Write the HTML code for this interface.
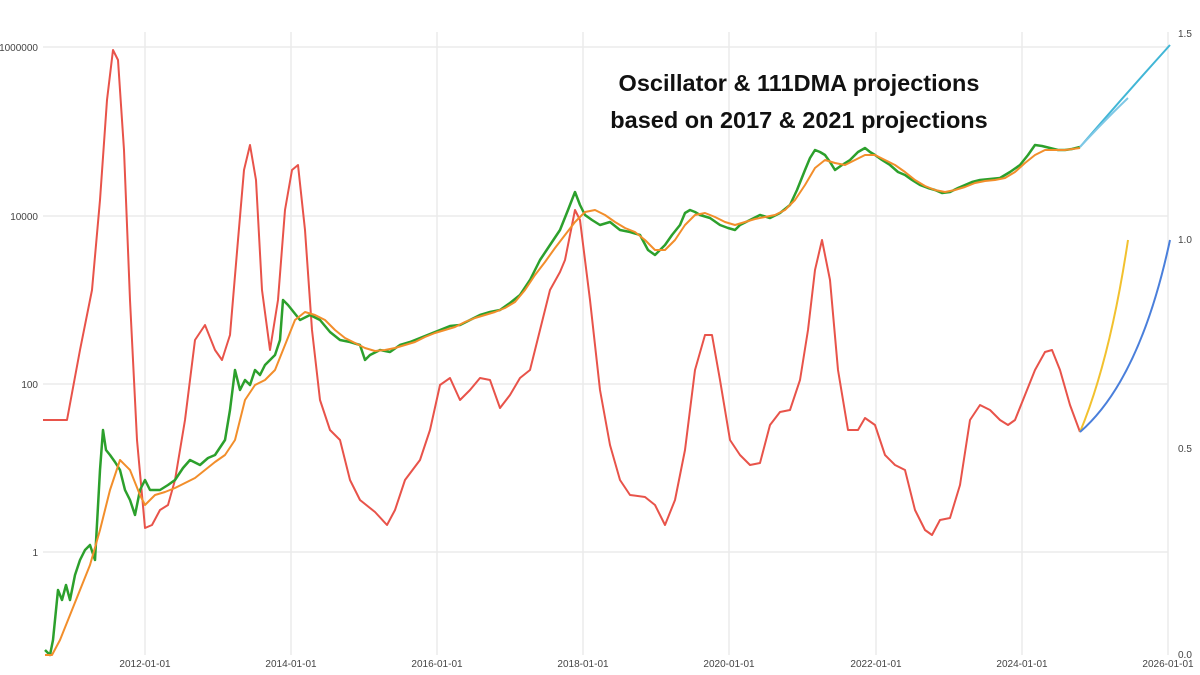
<!DOCTYPE html>
<html><head><meta charset="utf-8"><style>
body{margin:0;background:#fff;}
svg{display:block;font-family:"Liberation Sans",sans-serif;}
</style></head><body>
<svg width="1200" height="675" viewBox="0 0 1200 675">
<g stroke="#ebebeb" stroke-width="1.5">
<line x1="43" y1="47" x2="1168" y2="47"/><line x1="43" y1="216" x2="1168" y2="216"/>
<line x1="43" y1="384" x2="1168" y2="384"/><line x1="43" y1="552" x2="1168" y2="552"/>
<line x1="145" y1="32" x2="145" y2="655"/><line x1="291" y1="32" x2="291" y2="655"/>
<line x1="437" y1="32" x2="437" y2="655"/><line x1="583" y1="32" x2="583" y2="655"/>
<line x1="729" y1="32" x2="729" y2="655"/><line x1="876" y1="32" x2="876" y2="655"/>
<line x1="1022" y1="32" x2="1022" y2="655"/><line x1="1168" y1="32" x2="1168" y2="655"/>
</g>
<g font-size="10" fill="#444" text-anchor="end">
<text x="38" y="51">1000000</text><text x="38" y="220">10000</text>
<text x="38" y="388">100</text><text x="38" y="556">1</text>
</g>
<g font-size="10" fill="#444" text-anchor="middle">
<text x="145" y="667">2012-01-01</text><text x="291" y="667">2014-01-01</text>
<text x="437" y="667">2016-01-01</text><text x="583" y="667">2018-01-01</text>
<text x="729" y="667">2020-01-01</text><text x="876" y="667">2022-01-01</text>
<text x="1022" y="667">2024-01-01</text><text x="1168" y="667">2026-01-01</text>
</g>
<g font-size="10" fill="#444"><text x="1178" y="37">1.5</text><text x="1178" y="243">1.0</text><text x="1178" y="452">0.5</text><text x="1178" y="658">0.0</text></g>
<polyline fill="none" stroke="#e8534a" stroke-width="2" stroke-linejoin="round" points="43,420 67,420 80,350 92,290 100,200 107,100 113,50 118,60 124,150 130,300 137,440 145,528 152,525 160,510 168,505 175,480 185,420 195,340 205,325 215,350 222,360 230,335 238,240 244,170 250,145 256,180 262,290 270,350 278,300 285,210 292,170 298,165 305,230 312,330 320,400 330,430 340,440 350,480 360,500 375,512 387,525 395,510 405,480 420,460 430,430 440,385 450,378 460,400 470,390 480,378 490,380 500,408 510,395 520,378 530,370 540,330 550,290 560,272 565,260 575,210 580,220 590,300 600,390 610,445 620,480 630,495 645,497 655,505 665,525 675,500 685,450 695,370 705,335 712,335 720,380 730,440 740,455 750,465 760,463 770,425 780,412 790,410 800,380 808,330 815,270 822,240 830,280 838,370 848,430 858,430 865,418 875,425 885,455 895,465 905,470 915,510 925,530 932,535 940,520 950,518 960,485 970,420 980,405 990,410 1000,420 1008,425 1015,420 1025,395 1035,370 1045,352 1052,350 1060,370 1070,405 1080,432"/>
<polyline fill="none" stroke="#2ca02c" stroke-width="2.5" stroke-linejoin="round" points="45,650 50,655 53,640 55,620 58,590 62,600 66,585 70,600 75,575 80,560 85,550 90,545 95,560 100,470 103,430 106,450 110,455 115,462 120,470 125,490 130,500 135,515 140,490 145,480 150,490 160,490 168,485 175,480 183,468 190,460 200,465 208,458 215,455 225,440 230,410 235,370 240,390 245,380 250,385 255,370 260,375 265,365 270,360 275,355 280,340 283,300 288,305 292,310 300,320 310,315 320,320 330,332 340,340 350,342 360,345 365,360 370,355 380,350 390,352 400,345 410,342 420,338 430,334 440,330 450,326 460,325 470,320 480,315 490,312 500,310 510,303 520,295 530,280 540,260 550,245 560,230 568,210 575,192 580,205 585,215 592,220 600,225 610,222 620,230 630,232 640,235 648,250 655,255 660,250 665,245 672,235 680,225 685,213 690,210 695,212 700,215 710,218 720,225 728,228 735,230 740,225 750,220 760,215 770,218 780,213 790,205 797,190 805,170 810,158 815,150 820,152 825,155 830,162 835,170 842,165 850,160 858,152 865,148 870,152 875,155 882,160 890,165 898,172 905,175 912,180 920,185 928,188 935,190 942,193 950,192 958,188 965,185 972,182 980,180 990,179 1000,178 1010,172 1020,165 1028,155 1035,145 1042,146 1050,148 1058,150 1065,150 1072,149 1080,147"/>
<polyline fill="none" stroke="#f28e2b" stroke-width="2" stroke-linejoin="round" points="45,655 52,655 60,640 70,615 80,590 90,565 100,530 110,490 120,460 130,470 140,495 145,505 155,495 165,492 175,488 185,483 195,478 205,470 215,462 225,455 235,440 245,400 255,385 265,380 275,370 285,345 295,320 305,312 315,315 325,320 335,330 345,338 355,343 365,348 375,351 385,350 395,348 405,345 415,342 425,337 435,333 445,330 455,327 465,322 475,318 485,315 495,312 505,308 515,302 525,290 535,275 545,262 555,248 565,235 575,222 585,212 595,210 605,215 615,222 625,228 635,232 645,240 655,250 665,250 675,240 685,225 695,215 705,213 715,217 725,222 735,225 745,222 755,219 765,217 775,215 785,210 795,200 805,185 815,168 825,160 835,163 845,165 855,160 865,155 875,155 885,160 895,165 905,172 915,180 925,186 935,190 945,192 955,190 965,187 975,183 985,181 995,180 1005,178 1015,172 1025,163 1035,155 1045,150 1055,150 1065,150 1080,148"/>
<path d="M1080,432 Q1110,360 1128,240" fill="none" stroke="#f2c12e" stroke-width="2"/>
<path d="M1080,432 Q1140,380 1170,240" fill="none" stroke="#4a7fdb" stroke-width="2"/>
<path d="M1080,147 Q1125,95 1170,45" fill="none" stroke="#41b6d6" stroke-width="2"/>
<path d="M1080,147 Q1105,120 1128,98" fill="none" stroke="#7fc8e6" stroke-width="2"/>
<g font-size="23.5" font-weight="bold" fill="#111" text-anchor="middle">
<text x="799" y="91">Oscillator &amp; 111DMA projections</text>
<text x="799" y="128">based on 2017 &amp; 2021 projections</text>
</g>
</svg>
</body></html>
